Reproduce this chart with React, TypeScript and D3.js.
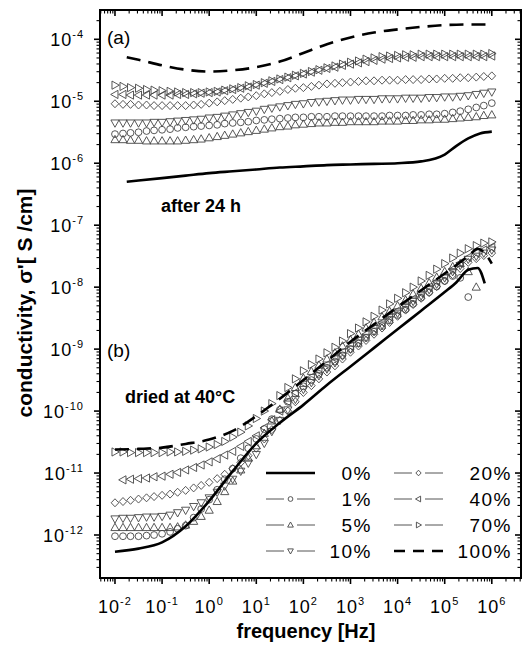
import React from 'react';
import * as d3 from 'd3';

// log10(frequency / Hz) of the measured points
const FREQ_EXP = [-2,-1.83,-1.67,-1.5,-1.33,-1.17,-1,-0.83,-0.67,-0.5,-0.33,-0.17,0,0.17,0.33,0.5,0.67,0.83,1,1.17,1.33,1.5,1.67,1.83,2,2.17,2.33,2.5,2.67,2.83,3,3.17,3.33,3.5,3.67,3.83,4,4.17,4.33,4.5,4.67,4.83,5,5.17,5.33,5.5,5.67,5.83,6];

// panel (a): after 24 h, log10(sigma')
const A_1 = [-5.53,-5.52,-5.51,-5.50,-5.48,-5.47,-5.46,-5.45,-5.43,-5.42,-5.41,-5.40,-5.39,-5.38,-5.36,-5.35,-5.34,-5.33,-5.31,-5.30,-5.29,-5.28,-5.27,-5.26,-5.26,-5.25,-5.25,-5.25,-5.24,-5.24,-5.24,-5.24,-5.24,-5.24,-5.24,-5.23,-5.23,-5.23,-5.22,-5.22,-5.21,-5.21,-5.20,-5.18,-5.16,-5.13,-5.10,-5.07,-5.03];
const A_5 = [-5.62,-5.62,-5.63,-5.63,-5.64,-5.64,-5.64,-5.64,-5.64,-5.63,-5.62,-5.61,-5.59,-5.57,-5.55,-5.53,-5.51,-5.49,-5.47,-5.45,-5.43,-5.41,-5.40,-5.38,-5.37,-5.36,-5.35,-5.35,-5.34,-5.34,-5.33,-5.33,-5.33,-5.33,-5.32,-5.32,-5.32,-5.31,-5.31,-5.30,-5.30,-5.29,-5.29,-5.28,-5.27,-5.26,-5.25,-5.23,-5.22];
const A_10 = [-5.35,-5.35,-5.35,-5.35,-5.35,-5.34,-5.34,-5.33,-5.32,-5.31,-5.30,-5.29,-5.27,-5.26,-5.24,-5.22,-5.20,-5.18,-5.16,-5.13,-5.11,-5.09,-5.07,-5.05,-5.04,-5.02,-5.01,-5.00,-4.99,-4.98,-4.98,-4.97,-4.97,-4.97,-4.96,-4.96,-4.96,-4.95,-4.95,-4.95,-4.94,-4.94,-4.93,-4.93,-4.92,-4.91,-4.89,-4.87,-4.85];
const A_20 = [-5.04,-5.05,-5.05,-5.06,-5.06,-5.07,-5.07,-5.07,-5.07,-5.07,-5.06,-5.05,-5.03,-5.01,-4.99,-4.97,-4.95,-4.93,-4.91,-4.88,-4.86,-4.84,-4.81,-4.79,-4.78,-4.76,-4.74,-4.72,-4.71,-4.70,-4.69,-4.68,-4.67,-4.67,-4.66,-4.66,-4.66,-4.65,-4.65,-4.65,-4.64,-4.64,-4.63,-4.63,-4.62,-4.62,-4.61,-4.60,-4.59];
const A_40 = [-4.89,-4.89,-4.90,-4.90,-4.90,-4.90,-4.90,-4.90,-4.89,-4.89,-4.88,-4.87,-4.86,-4.85,-4.83,-4.81,-4.79,-4.77,-4.74,-4.71,-4.68,-4.65,-4.62,-4.59,-4.56,-4.53,-4.50,-4.47,-4.45,-4.42,-4.40,-4.38,-4.36,-4.34,-4.32,-4.31,-4.30,-4.29,-4.29,-4.28,-4.28,-4.28,-4.28,-4.28,-4.28,-4.28,-4.28,-4.28,-4.27];
const A_70 = [-4.74,-4.76,-4.78,-4.79,-4.81,-4.82,-4.83,-4.84,-4.85,-4.86,-4.86,-4.86,-4.85,-4.84,-4.82,-4.80,-4.78,-4.75,-4.73,-4.70,-4.67,-4.64,-4.61,-4.58,-4.55,-4.52,-4.49,-4.46,-4.43,-4.40,-4.37,-4.35,-4.32,-4.30,-4.28,-4.27,-4.26,-4.25,-4.25,-4.24,-4.24,-4.24,-4.24,-4.24,-4.24,-4.24,-4.24,-4.24,-4.23];
const A0_EXP = [-1.75,-1.5,-1,-0.5,0,0.5,1,1.5,2,2.5,3,3.5,4,4.5,5,5.25,5.5,5.75,6];
const A_0 = [-6.30,-6.28,-6.24,-6.20,-6.16,-6.13,-6.10,-6.07,-6.05,-6.03,-6.02,-6.01,-6.00,-5.97,-5.86,-5.72,-5.60,-5.52,-5.49];
const A100_EXP = [-1.75,-1.5,-1,-0.5,0,0.5,1,1.5,2,2.5,3,3.5,4,4.5,5,5.5,6];
const A_100 = [-4.29,-4.33,-4.42,-4.49,-4.52,-4.50,-4.45,-4.36,-4.22,-4.08,-3.97,-3.89,-3.84,-3.80,-3.77,-3.76,-3.76];

// panel (b): dried at 40 °C, log10(sigma')
const B_1 = [-12.02,-12.02,-12.02,-12.02,-12.01,-12.00,-11.98,-11.95,-11.90,-11.85,-11.72,-11.58,-11.43,-11.27,-11.10,-10.93,-10.76,-10.60,-10.45,-10.29,-10.13,-9.98,-9.85,-9.72,-9.60,-9.50,-9.40,-9.30,-9.20,-9.10,-9.00,-8.91,-8.82,-8.72,-8.63,-8.54,-8.45,-8.36,-8.27,-8.17,-8.08,-7.99,-7.90,-7.82,-7.85,-8.16,null,null,null];
const B_5 = [-11.88,-11.88,-11.88,-11.88,-11.88,-11.88,-11.88,-11.88,-11.87,-11.84,-11.78,-11.70,-11.60,-11.46,-11.30,-11.13,-10.95,-10.76,-10.56,-10.36,-10.16,-9.97,-9.79,-9.62,-9.47,-9.36,-9.26,-9.16,-9.06,-8.95,-8.85,-8.76,-8.66,-8.57,-8.48,-8.39,-8.30,-8.21,-8.11,-8.02,-7.93,-7.84,-7.75,-7.67,-7.62,-7.75,-8.00,null,null];
const B_10 = [-11.74,-11.73,-11.73,-11.72,-11.71,-11.71,-11.70,-11.68,-11.64,-11.60,-11.54,-11.48,-11.40,-11.31,-11.21,-11.10,-10.97,-10.84,-10.70,-10.52,-10.33,-10.15,-9.98,-9.81,-9.65,-9.54,-9.43,-9.32,-9.22,-9.11,-9.00,-8.90,-8.81,-8.71,-8.61,-8.52,-8.42,-8.33,-8.23,-8.14,-8.04,-7.95,-7.85,-7.75,-7.65,-7.55,-7.50,-7.45,-7.40];
const B_20 = [-11.48,-11.46,-11.44,-11.42,-11.40,-11.38,-11.36,-11.34,-11.31,-11.28,-11.24,-11.20,-11.15,-11.09,-11.02,-10.93,-10.83,-10.72,-10.60,-10.45,-10.30,-10.15,-10.00,-9.85,-9.70,-9.59,-9.48,-9.37,-9.27,-9.16,-9.05,-8.95,-8.86,-8.76,-8.66,-8.57,-8.47,-8.37,-8.28,-8.18,-8.09,-7.99,-7.90,-7.80,-7.70,-7.60,-7.54,-7.49,-7.45];
const B_40 = [null,-11.11,-11.10,-11.09,-11.08,-11.06,-11.05,-11.02,-10.99,-10.95,-10.91,-10.87,-10.82,-10.77,-10.71,-10.65,-10.57,-10.49,-10.40,-10.27,-10.14,-10.00,-9.85,-9.70,-9.55,-9.45,-9.35,-9.25,-9.15,-9.05,-8.95,-8.86,-8.76,-8.67,-8.57,-8.48,-8.38,-8.29,-8.19,-8.10,-8.00,-7.91,-7.82,-7.71,-7.61,-7.52,-7.45,-7.40,-7.36];
const B_70 = [-10.66,-10.66,-10.67,-10.67,-10.67,-10.67,-10.67,-10.66,-10.66,-10.65,-10.63,-10.61,-10.58,-10.54,-10.49,-10.42,-10.34,-10.24,-10.12,-10.00,-9.88,-9.75,-9.62,-9.48,-9.35,-9.25,-9.16,-9.06,-8.97,-8.87,-8.75,-8.66,-8.56,-8.47,-8.37,-8.27,-8.18,-8.09,-8.00,-7.90,-7.81,-7.71,-7.62,-7.53,-7.45,-7.38,-7.33,-7.29,-7.27];
const B0_EXP = [-2,-1.5,-1,-0.5,0,0.5,1,1.5,2,2.5,3,3.5,4,4.5,5,5.25,5.5,5.7,5.85];
const B_0 = [-12.27,-12.22,-12.12,-11.86,-11.45,-10.97,-10.52,-10.19,-9.90,-9.58,-9.28,-8.98,-8.68,-8.38,-8.08,-7.92,-7.72,-7.69,-7.94];
const B100_EXP = [-2,-1.5,-1,-0.5,0,0.5,1,1.5,2,2.5,3,3.5,4,4.5,5,5.5,5.7,5.85,6];
const B_100 = [-10.62,-10.61,-10.59,-10.53,-10.46,-10.32,-10.08,-9.80,-9.50,-9.19,-8.88,-8.60,-8.32,-8.05,-7.78,-7.50,-7.38,-7.45,-7.62];

const X_TICKS = [-2,-1,0,1,2,3,4,5,6];
const Y_TICKS = [-4,-5,-6,-7,-8,-9,-10,-11,-12];

const MARKER_NAMES = ['1%','5%','10%','20%','40%','70%'];
const MARKER_SHAPES = ['circle','up','down','diamond','left','right'];
const A_MARKED = [A_1,A_5,A_10,A_20,A_40,A_70];
const B_MARKED = [B_1,B_5,B_10,B_20,B_40,B_70];

const LEGEND_COL1 = ['0%','1%','5%','10%'];
const LEGEND_COL2 = ['20%','40%','70%','100%'];

const W = 525, H = 651;
const L = 100, R = 521, T = 10, B = 578;
const x = d3.scaleLog().domain([Math.pow(10,-2.318), Math.pow(10,6.62)]).range([L, R]);
const y = d3.scaleLog().domain([Math.pow(10,-12.694), Math.pow(10,-3.527)]).range([B, T]);

const FONT = '"Liberation Sans", Arial, Helvetica, sans-serif';
const MK = '#444';

function markerPath(shape: string, k = 1): string {
  const s = k;
  switch (shape) {
    case 'circle': {
      const r = 3.4 * s;
      return `M${-r},0A${r},${r} 0 1,0 ${r},0A${r},${r} 0 1,0 ${-r},0Z`;
    }
    case 'up': return `M0,${-4.3*s}L${4.1*s},${3*s}L${-4.1*s},${3*s}Z`;
    case 'down': return `M0,${4.3*s}L${4.1*s},${-3*s}L${-4.1*s},${-3*s}Z`;
    case 'left': return `M${-4.3*s},0L${3*s},${-4.1*s}L${3*s},${4.1*s}Z`;
    case 'right': return `M${4.3*s},0L${-3*s},${-4.1*s}L${-3*s},${4.1*s}Z`;
    case 'diamond': return `M0,${-4*s}L${3.8*s},0L0,${4*s}L${-3.8*s},0Z`;
  }
  return '';
}

const lineGen = d3.line<[number, number]>()
  .x(d => x(Math.pow(10, d[0])))
  .y(d => y(Math.pow(10, d[1])))
  .curve(d3.curveMonotoneX);

function pairs(ex: number[], vals: (number | null)[]): [number, number][] {
  const out: [number, number][] = [];
  ex.forEach((e, i) => { const v = vals[i]; if (v !== null && v !== undefined) out.push([e, v]); });
  return out;
}

function Markers({ vals, shape }: { vals: (number | null)[]; shape: string }) {
  const d = markerPath(shape);
  return (
    <g>
      {pairs(FREQ_EXP, vals).map((p, i) => (
        <path key={i} d={d} transform={`translate(${x(Math.pow(10, p[0]))},${y(Math.pow(10, p[1]))})`}
          fill="none" stroke={MK} strokeWidth={0.9} />
      ))}
    </g>
  );
}

function LegendItem({ label, lx, tx, cy }: { label: string; lx: number; tx: number; cy: number }) {
  let sym: React.ReactNode;
  if (label === '0%') {
    sym = <line x1={lx} x2={lx + 49} y1={cy} y2={cy} stroke="#000" strokeWidth={2.6} />;
  } else if (label === '100%') {
    sym = <line x1={lx} x2={lx + 49} y1={cy} y2={cy} stroke="#000" strokeWidth={2.6} strokeDasharray="11,8" />;
  } else {
    const shape = MARKER_SHAPES[MARKER_NAMES.indexOf(label)];
    sym = (
      <g>
        <line x1={lx} x2={lx + 18} y1={cy} y2={cy} stroke="#555" strokeWidth={1} />
        <line x1={lx + 31} x2={lx + 49} y1={cy} y2={cy} stroke="#555" strokeWidth={1} />
        <path d={markerPath(shape, 0.7)} transform={`translate(${lx + 24.5},${cy})`} fill="none" stroke={MK} strokeWidth={0.9} />
      </g>
    );
  }
  return (
    <g>
      {sym}
      <text x={tx} y={cy + 7} textAnchor="end" fontSize={19} letterSpacing={1.5} fontFamily={FONT}>{label}</text>
    </g>
  );
}

export default function App() {
  const minorX: number[] = [];
  for (let k = -3; k <= 6; k++) for (let m = 2; m <= 9; m++) {
    const v = m * Math.pow(10, k);
    const px = x(v);
    if (px > L + 0.5 && px < R - 0.5) minorX.push(v);
  }
  const minorY: number[] = [];
  for (let k = -13; k <= -4; k++) for (let m = 2; m <= 9; m++) {
    const v = m * Math.pow(10, k);
    const py = y(v);
    if (py > T + 0.5 && py < B - 0.5) minorY.push(v);
  }
  const rowY = [473, 499, 525, 551];

  return (
    <svg width={W} height={H} style={{ position: 'absolute', left: 0, top: 0, background: '#fff' }} fontFamily={FONT}>
      <rect x={0} y={0} width={W} height={H} fill="#fff" />
      <defs>
        <clipPath id="plotclip"><rect x={L} y={T} width={R - L} height={B - T} /></clipPath>
      </defs>

      <g clipPath="url(#plotclip)">
        {A_MARKED.map((v, i) => <Markers key={'a' + i} vals={v} shape={MARKER_SHAPES[i]} />)}
        {B_MARKED.map((v, i) => <Markers key={'b' + i} vals={v} shape={MARKER_SHAPES[i]} />)}
        <path d={lineGen(pairs(A0_EXP, A_0)) || ''} fill="none" stroke="#000" strokeWidth={2.6} />
        <path d={lineGen(pairs(A100_EXP, A_100)) || ''} fill="none" stroke="#000" strokeWidth={2.6} strokeDasharray="14,8" />
        <path d={lineGen(pairs(B0_EXP, B_0)) || ''} fill="none" stroke="#000" strokeWidth={2.6} />
        <path d={lineGen(pairs(B100_EXP, B_100)) || ''} fill="none" stroke="#000" strokeWidth={2.6} strokeDasharray="14,8" />
      </g>

      {/* frame */}
      <rect x={L} y={T} width={R - L} height={B - T} fill="none" stroke="#000" strokeWidth={2} />

      {/* x ticks: bottom outward, top inward */}
      {X_TICKS.map(e => {
        const px = x(Math.pow(10, e));
        return (
          <g key={'xt' + e}>
            <line x1={px} x2={px} y1={B} y2={B + 6} stroke="#000" strokeWidth={1.6} />
            <line x1={px} x2={px} y1={T} y2={T + 6} stroke="#000" strokeWidth={1.6} />
            <text x={px} y={613} textAnchor="middle" fontSize={18} letterSpacing={1}>
              10<tspan fontSize={11} dy={-8}>{e}</tspan>
            </text>
          </g>
        );
      })}
      {minorX.map((v, i) => {
        const px = x(v);
        return (
          <g key={'xm' + i}>
            <line x1={px} x2={px} y1={B} y2={B + 3.5} stroke="#000" strokeWidth={1.1} />
            <line x1={px} x2={px} y1={T} y2={T + 3.5} stroke="#000" strokeWidth={1.1} />
          </g>
        );
      })}

      {/* y ticks: left outward, right inward */}
      {Y_TICKS.map(e => {
        const py = y(Math.pow(10, e));
        return (
          <g key={'yt' + e}>
            <line x1={L - 6} x2={L} y1={py} y2={py} stroke="#000" strokeWidth={1.6} />
            <line x1={R - 6} x2={R} y1={py} y2={py} stroke="#000" strokeWidth={1.6} />
            <text x={84} y={py + 7} textAnchor="end" fontSize={18} letterSpacing={1}>
              10<tspan fontSize={11} dy={-8}>{e}</tspan>
            </text>
          </g>
        );
      })}
      {minorY.map((v, i) => {
        const py = y(v);
        return (
          <g key={'ym' + i}>
            <line x1={L - 3.5} x2={L} y1={py} y2={py} stroke="#000" strokeWidth={1.1} />
            <line x1={R - 3.5} x2={R} y1={py} y2={py} stroke="#000" strokeWidth={1.1} />
          </g>
        );
      })}

      {/* annotations */}
      <text x={107} y={44} fontSize={19}>(a)</text>
      <text x={107} y={357} fontSize={19}>(b)</text>
      <text x={161} y={212} fontSize={18} fontWeight="bold">after 24 h</text>
      <text x={125} y={403} fontSize={18} fontWeight="bold">dried at 40°C</text>

      {/* legend */}
      {LEGEND_COL1.map((lab, i) => <LegendItem key={lab} label={lab} lx={266} tx={372} cy={rowY[i]} />)}
      {LEGEND_COL2.map((lab, i) => <LegendItem key={lab} label={lab} lx={394} tx={512} cy={rowY[i]} />)}

      {/* axis titles */}
      <text x={306} y={638} textAnchor="middle" fontSize={20} fontWeight="bold">frequency [Hz]</text>
      <text transform="translate(32,303) rotate(-90)" textAnchor="middle" fontSize={21} fontWeight="bold">conductivity, σ'[ S /cm]</text>
    </svg>
  );
}
